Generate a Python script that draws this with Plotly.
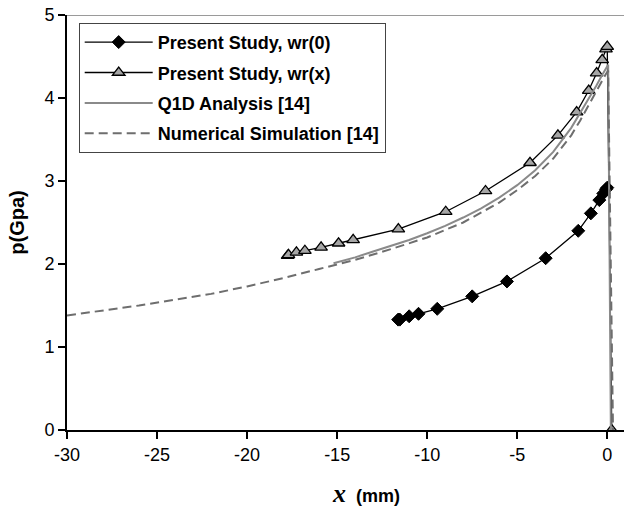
import plotly.graph_objects as go

# Present study, wr(0)
wr0_x = [-11.61, -11.52, -11.0, -10.48, -9.44, -7.5, -5.57, -3.42, -1.61, -0.91, -0.44, -0.22, -0.07, 0.0]
wr0_p = [1.33, 1.33, 1.37, 1.40, 1.46, 1.61, 1.79, 2.07, 2.40, 2.61, 2.77, 2.85, 2.90, 2.92]

# Present study, wr(x)
wrx_x = [-17.75, -17.7, -17.26, -16.79, -15.89, -14.92, -14.11, -11.6, -8.97, -6.76, -4.29,
         -2.74, -1.7, -1.03, -0.59, -0.28, -0.07, 0.0, 0.25]
wrx_p = [2.10, 2.11, 2.14, 2.16, 2.20, 2.25, 2.29, 2.42, 2.63, 2.88, 3.22,
         3.55, 3.83, 4.09, 4.30, 4.46, 4.59, 4.62, 0.0]

# Q1D analysis [14]
q1d_x = [-15.2, -14, -13, -12, -11, -10, -9, -8, -7, -6, -5, -4, -3, -2, -1.5, -1, -0.6, -0.3, -0.1, 0.05, 0.2]
q1d_p = [2.01, 2.08, 2.15, 2.22, 2.29, 2.37, 2.46, 2.56, 2.67, 2.80, 2.95, 3.13, 3.35, 3.64, 3.82, 4.0,
         4.15, 4.27, 4.35, 4.40, 0.0]

# Numerical simulation [14]
num_x = [-30, -28, -26, -24, -22, -20, -18, -16, -14, -12, -10, -8, -6, -5, -4, -3, -2, -1.5, -1,
         -0.6, -0.3, -0.1, 0.05, 0.32]
num_p = [1.38, 1.44, 1.50, 1.57, 1.64, 1.73, 1.83, 1.94, 2.05, 2.18, 2.32, 2.50, 2.74, 2.89, 3.06,
         3.27, 3.55, 3.73, 3.93, 4.08, 4.20, 4.28, 4.33, 0.0]

x_ticks = [-30, -25, -20, -15, -10, -5, 0]
y_ticks = [0, 1, 2, 3, 4, 5]

FONT = "Liberation Sans, Arial, sans-serif"

fig = go.Figure()

fig.add_trace(go.Scatter(
    x=wr0_x, y=wr0_p, mode="lines+markers", name="Present Study, wr(0)",
    legendgroup="a",
    line=dict(color="black", width=1.3),
    marker=dict(symbol="diamond", size=10, color="black", line=dict(color="black", width=1)),
))
fig.add_trace(go.Scatter(
    x=wrx_x, y=wrx_p, mode="lines+markers", name="Present Study, wr(x)",
    legendgroup="b",
    line=dict(color="black", width=1.3),
    marker=dict(symbol="triangle-up", size=11, color="#a6a6a6", line=dict(color="black", width=1.3)),
))
fig.add_trace(go.Scatter(
    x=q1d_x, y=q1d_p, mode="lines", name="Q1D Analysis [14]",
    legendgroup="c",
    line=dict(color="#8a8a8a", width=2),
))
fig.add_trace(go.Scatter(
    x=num_x, y=num_p, mode="lines", name="Numerical Simulation [14]",
    legendgroup="d",
    line=dict(color="#6e6e6e", width=2, dash="9px,5px"),
))

# thin grey frame line along the top of the plot area
fig.add_shape(type="line", xref="paper", yref="y", x0=0, x1=1, y0=5, y1=5,
              line=dict(color="#9a9a9a", width=2), layer="below")

# x-axis caption
fig.add_annotation(
    xref="paper", yref="paper", x=0.537, y=-0.152, xanchor="center", yanchor="middle",
    showarrow=False,
    text="<b><i><span style=\"font-family:'Liberation Serif', serif;font-size:26px\">x</span></i>"
         "  (mm)</b>",
    font=dict(family=FONT, size=18, color="black"),
)

fig.update_layout(
    width=624, height=517,
    margin=dict(l=67, r=0, t=15, b=87),
    paper_bgcolor="white", plot_bgcolor="white",
    font=dict(family=FONT, size=18, color="black"),
    showlegend=True,
    legend=dict(
        x=0.021, y=0.981, xanchor="left", yanchor="top",
        bgcolor="white", bordercolor="#444444", borderwidth=1,
        font=dict(family=FONT, size=18, color="black", weight="bold"),
        tracegroupgap=4, itemwidth=68,
    ),
    xaxis=dict(
        range=[-30, 0.93], tickvals=x_ticks, ticktext=[str(v) for v in x_ticks],
        showgrid=False, zeroline=False,
        showline=True, linecolor="black", linewidth=2,
        ticks="outside", ticklen=7, tickwidth=2, tickcolor="black",
        tickfont=dict(size=18),
    ),
    yaxis=dict(
        range=[0, 5], tickvals=y_ticks, ticktext=[str(v) for v in y_ticks],
        showgrid=False, zeroline=False,
        showline=True, linecolor="black", linewidth=2,
        ticks="outside", ticklen=7, tickwidth=2, tickcolor="black",
        tickfont=dict(size=18),
        title=dict(text="<b>p(Gpa)</b>", font=dict(size=20), standoff=14),
    ),
)

fig.write_html("out.html")
